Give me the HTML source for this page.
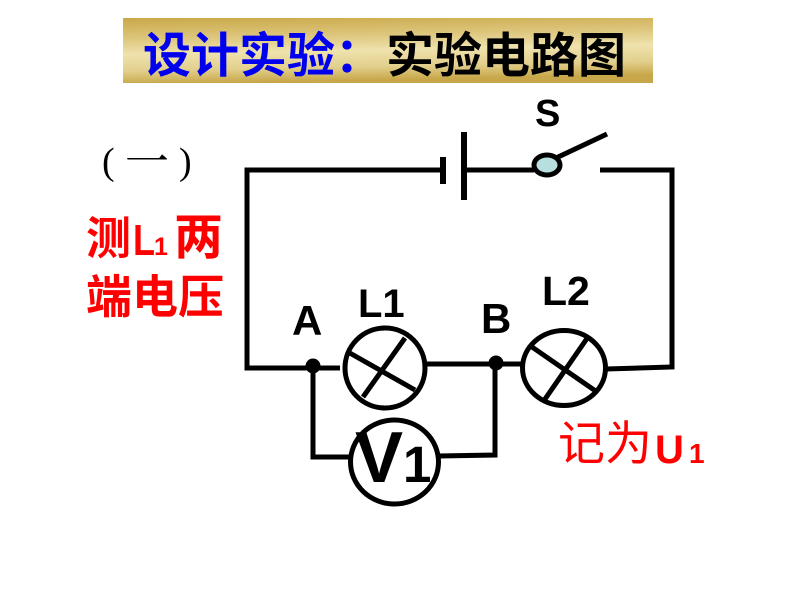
<!DOCTYPE html>
<html>
<head>
<meta charset="utf-8">
<style>
html,body{margin:0;padding:0;background:#fff;}
body{width:800px;height:600px;overflow:hidden;position:relative;}
svg{position:absolute;left:0;top:0;}
</style>
</head>
<body>
<svg width="800" height="600" viewBox="0 0 800 600" xmlns="http://www.w3.org/2000/svg">
  <defs>
    <linearGradient id="gold" x1="0" y1="0" x2="0.15" y2="1">
      <stop offset="0" stop-color="#c9a848"/>
      <stop offset="0.3" stop-color="#dcc47a"/>
      <stop offset="0.55" stop-color="#efe2ad"/>
      <stop offset="0.8" stop-color="#e2cf8c"/>
      <stop offset="1" stop-color="#c8a74a"/>
    </linearGradient>
  </defs>
  <!-- title banner -->
  <rect x="123" y="18" width="530" height="65" fill="url(#gold)"/>
  <text x="143" y="72" font-family="'Liberation Sans','Noto Sans CJK SC',sans-serif" font-size="48" font-weight="bold" fill="#0000ee">设计实验：</text>
  <text x="386" y="72" font-family="'Liberation Sans','Noto Sans CJK SC',sans-serif" font-size="48" font-weight="bold" fill="#000">实验电路图</text>

  <!-- left text -->
  <g fill="#000">
    <text x="102" y="174" font-family="'Liberation Serif',serif" font-size="38">(</text>
    <text x="125" y="177" font-family="'Noto Serif CJK SC','Noto Sans CJK SC',serif" font-size="44">一</text>
    <text x="179" y="174" font-family="'Liberation Serif',serif" font-size="38">)</text>
  </g>
  <g font-family="'Liberation Sans','Noto Sans CJK SC',sans-serif" font-weight="bold" fill="#ff0000">
    <text x="86" y="254" font-size="45">测</text>
    <text x="133" y="255" font-size="44" transform="translate(133 0) scale(0.82 1) translate(-133 0)">L</text>
    <text x="154" y="255" font-size="25">1</text>
    <text x="174" y="254" font-size="49">两</text>
    <text x="86" y="313" font-size="46">端电压</text>
  </g>

  <!-- circuit wires -->
  <g stroke="#000" stroke-width="5" fill="none" stroke-linejoin="miter" stroke-linecap="butt">
    <polyline points="443,170 247,170 247,368 340,368"/>
    <line x1="464" y1="170" x2="534" y2="170"/>
    <polyline points="600,170 672,170 672,367 606,369"/>
    <line x1="427" y1="364" x2="522" y2="364"/>
    <polyline points="313,366 313,457 351,457"/>
    <polyline points="495,363 495,455 438,456"/>
    <!-- battery -->
    <line x1="443" y1="157" x2="443" y2="184" stroke-width="6"/>
    <line x1="464" y1="132" x2="464" y2="200" stroke-width="6"/>
    <!-- switch lever -->
    <line x1="556" y1="158" x2="607" y2="134"/>
    <!-- L1 -->
    <circle cx="385" cy="368" r="40"/>
    <line x1="348" y1="352" x2="415" y2="390"/>
    <line x1="363" y1="397" x2="405" y2="338"/>
    <!-- L2 -->
    <ellipse cx="564" cy="368" rx="41.5" ry="37.5"/>
    <line x1="532" y1="347" x2="597" y2="392"/>
    <line x1="543" y1="402" x2="588" y2="337"/>
    <!-- V -->
    <ellipse cx="394.5" cy="462" rx="44" ry="42"/>
  </g>
  <ellipse cx="547" cy="165" rx="13" ry="10" fill="#b8dfe0" stroke="#000" stroke-width="5"/>
  <circle cx="313" cy="366" r="7.5" fill="#000"/>
  <circle cx="496" cy="363" r="7.5" fill="#000"/>

  <!-- labels -->
  <g font-family="'Liberation Sans',sans-serif" font-weight="bold" fill="#000">
    <text x="535" y="126" font-size="38">S</text>
    <text x="292" y="335" font-size="42">A</text>
    <text x="358" y="317" font-size="40">L1</text>
    <text x="481" y="333" font-size="42">B</text>
    <text x="542" y="305" font-size="41">L2</text>
    <text x="355" y="482" font-size="72">V</text>
    <text x="403" y="482" font-size="51">1</text>
  </g>

  <!-- right red text -->
  <text x="558" y="460" font-family="'Liberation Sans','Noto Sans CJK SC',sans-serif" font-size="47" fill="#ff0000">记为</text>
  <text x="655" y="463" font-family="'Liberation Sans',sans-serif" font-size="40" font-weight="bold" fill="#ff0000">U</text>
  <text x="689" y="463" font-family="'Liberation Sans',sans-serif" font-size="28" font-weight="bold" fill="#ff0000">1</text>
</svg>
</body>
</html>
